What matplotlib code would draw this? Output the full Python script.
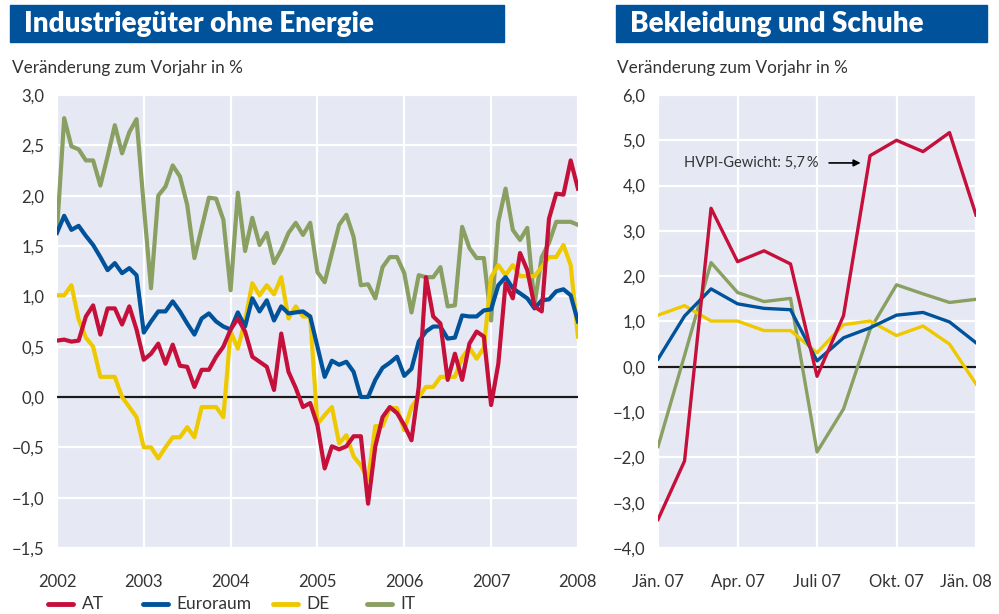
import matplotlib
matplotlib.use('Agg')
import numpy as np
import matplotlib.pyplot as plt
import matplotlib.transforms as mtrans
from matplotlib.patches import Rectangle
from matplotlib.lines import Line2D

plt.rcParams['font.family'] = ['Lato', 'DejaVu Sans']

# linkes Diagramm: Monatswerte Jan 2002 bis Jan 2008
at_l = [0.56, 0.57, 0.55, 0.56, 0.80, 0.91, 0.62, 0.88, 0.88, 0.72, 0.90, 0.67,
        0.37, 0.43, 0.53, 0.33, 0.52, 0.31, 0.30, 0.10, 0.27, 0.27, 0.40, 0.50,
        0.67, 0.78, 0.65, 0.40, 0.35, 0.30, 0.07, 0.63, 0.25, 0.09, -0.10, -0.06,
        -0.28, -0.71, -0.49, -0.52, -0.49, -0.39, -0.39, -1.06, -0.49, -0.20, -0.10, -0.16,
        -0.28, -0.43, 0.10, 1.19, 0.80, 0.73, 0.17, 0.43, 0.17, 0.53, 0.65, 0.60,
        -0.08, 0.33, 1.13, 0.98, 1.43, 1.26, 0.90, 0.85, 1.77, 2.02, 2.01, 2.35, 2.07]
euro_l = [1.63, 1.80, 1.66, 1.70, 1.60, 1.51, 1.39, 1.26, 1.33, 1.23, 1.28, 1.21,
          0.64, 0.75, 0.85, 0.85, 0.95, 0.85, 0.73, 0.62, 0.78, 0.83, 0.75, 0.70,
          0.67, 0.84, 0.70, 0.98, 0.85, 0.96, 0.76, 0.90, 0.83, 0.84, 0.85, 0.80,
          0.50, 0.20, 0.36, 0.32, 0.35, 0.25, 0.00, 0.00, 0.17, 0.29, 0.34, 0.40,
          0.21, 0.28, 0.55, 0.65, 0.70, 0.70, 0.58, 0.59, 0.81, 0.80, 0.80, 0.86,
          0.87, 1.11, 1.19, 1.08, 1.03, 0.98, 0.88, 0.96, 0.97, 1.05, 1.07, 1.01, 0.75]
de_l = [1.01, 1.01, 1.11, 0.77, 0.59, 0.50, 0.20, 0.20, 0.20, 0.00, -0.10, -0.20,
        -0.50, -0.50, -0.61, -0.50, -0.40, -0.40, -0.30, -0.40, -0.10, -0.10, -0.10, -0.20,
        0.65, 0.48, 0.76, 1.13, 1.01, 1.11, 1.02, 1.19, 0.78, 0.90, 0.80, 0.80,
        -0.27, -0.18, -0.10, -0.46, -0.38, -0.59, -0.68, -0.82, -0.29, -0.29, -0.11, -0.11,
        -0.33, -0.10, 0.00, 0.10, 0.10, 0.20, 0.20, 0.20, 0.39, 0.49, 0.38, 0.49,
        1.19, 1.31, 1.21, 1.31, 1.20, 1.20, 1.20, 1.29, 1.39, 1.39, 1.51, 1.31, 0.60]
it_l = [1.64, 2.77, 2.49, 2.46, 2.35, 2.35, 2.10, 2.39, 2.70, 2.42, 2.63, 2.76,
        1.90, 1.08, 2.00, 2.09, 2.30, 2.19, 1.91, 1.38, 1.68, 1.98, 1.97, 1.76,
        1.06, 2.03, 1.45, 1.78, 1.51, 1.63, 1.33, 1.46, 1.63, 1.73, 1.61, 1.73,
        1.24, 1.14, 1.43, 1.71, 1.81, 1.59, 1.11, 1.12, 0.98, 1.29, 1.39, 1.39,
        1.23, 0.84, 1.21, 1.19, 1.19, 1.29, 0.90, 0.91, 1.69, 1.48, 1.38, 1.38,
        0.76, 1.74, 2.07, 1.66, 1.56, 1.68, 0.92, 1.39, 1.53, 1.74, 1.74, 1.74, 1.71]
years = [2002, 2003, 2004, 2005, 2006, 2007, 2008]

# rechtes Diagramm: Jän. 07 bis Jän. 08
at_r = [-3.37, -2.08, 3.50, 2.32, 2.56, 2.27, -0.21, 1.13, 4.66, 5.00, 4.75, 5.17, 3.35]
euro_r = [0.17, 1.12, 1.72, 1.39, 1.29, 1.26, 0.13, 0.64, 0.86, 1.14, 1.20, 0.99, 0.53]
de_r = [1.14, 1.35, 1.01, 1.01, 0.80, 0.80, 0.31, 0.93, 1.01, 0.69, 0.90, 0.50, -0.38]
it_r = [-1.76, 0.25, 2.30, 1.64, 1.44, 1.51, -1.88, -0.93, 0.82, 1.81, 1.61, 1.42, 1.49]
month_labels = ['Jän. 07', 'Apr. 07', 'Juli 07', 'Okt. 07', 'Jän. 08']

series = ['AT', 'Euroraum', 'DE', 'IT']
colors = ['#C4103A', '#00529B', '#EEC900', '#8A9F62']
bg = '#E6E9F3'
txt = '#333333'
bar = '#00529B'

fig = plt.figure(figsize=(9.99, 6.14), dpi=100)

def de_fmt(v):
    s = '%.1f' % v
    return s.replace('-', '\u2212').replace('.', ',')

def style(ax):
    ax.set_facecolor(bg)
    for s in ax.spines.values():
        s.set_visible(False)
    ax.grid(True, color='white', lw=1.6)
    ax.set_axisbelow(True)
    ax.tick_params(length=0, labelsize=12, colors=txt)
    ax.tick_params(axis='x', pad=19)
    ax.tick_params(axis='y', pad=9)
    ax.axhline(0, color='#1a1a1a', lw=1.6, zorder=2)

# links
ax1 = fig.add_axes([0.057, 0.1075, 0.5215, 0.7378])
style(ax1)
x_l = 2002 + np.arange(len(at_l)) / 12.0
for vals, col in zip([it_l, de_l, euro_l, at_l], colors[::-1]):
    ax1.plot(x_l, vals, color=col, lw=3, zorder=3)
ax1.set_xlim(2002, 2008)
ax1.set_ylim(-1.5, 3.0)
ax1.set_xticks(years)
ax1.set_xticklabels([str(y) for y in years])
yt1 = np.arange(-1.5, 3.01, 0.5)
ax1.set_yticks(yt1)
ax1.set_yticklabels([de_fmt(v) for v in yt1])

# rechts
ax2 = fig.add_axes([0.6587, 0.1075, 0.3183, 0.7378])
style(ax2)
x_r = np.arange(len(at_r))
for vals, col in zip([it_r, de_r, euro_r, at_r], colors[::-1]):
    ax2.plot(x_r, vals, color=col, lw=2.4, zorder=3)
ax2.set_xlim(0, 12)
ax2.set_ylim(-4, 6)
ax2.set_xticks([0, 3, 6, 9, 12])
ax2.set_xticklabels(month_labels)
last = ax2.get_xticklabels()[-1]
last.set_transform(last.get_transform() + mtrans.ScaledTranslation(-10 / 100, 0, fig.dpi_scale_trans))
yt2 = np.arange(-4, 6.01, 1.0)
ax2.set_yticks(yt2)
ax2.set_yticklabels([de_fmt(v) for v in yt2])
ax2.text(0.98, 4.5, 'HVPI-Gewicht: 5,7\u2009%', fontsize=10.5, color=txt,
         va='center', ha='left')
ax2.annotate('', xy=(7.75, 4.5), xytext=(6.35, 4.5),
             arrowprops=dict(arrowstyle='-|>', color='black', lw=1.2, mutation_scale=10))

# Titelbalken
for x0, w, title in [(0.010, 0.4945, 'Industriegüter ohne Energie'),
                     (0.6166, 0.3714, 'Bekleidung und Schuhe')]:
    fig.patches.append(Rectangle((x0, 0.9316), w, 0.0603, transform=fig.transFigure,
                                 color=bar, zorder=0))
    fig.text(x0 + 0.014, 0.961, title, color='white', fontsize=20, fontweight='heavy',
             va='center', ha='left')

fig.text(0.012, 0.889, 'Veränderung zum Vorjahr in %', fontsize=12.3, color=txt, va='center')
fig.text(0.618, 0.889, 'Veränderung zum Vorjahr in %', fontsize=12.3, color=txt, va='center')

# Legende, von Hand gesetzt
leg_x = [0.048, 0.143, 0.273, 0.367]
leg_y = 0.0163
for xl, name, col in zip(leg_x, series, colors):
    fig.lines.append(Line2D([xl, xl + 0.025], [leg_y, leg_y], transform=fig.transFigure,
                            color=col, lw=3.5, solid_capstyle='round'))
    fig.text(xl + 0.034, leg_y, name, fontsize=12.5, color=txt, va='center', ha='left')

fig.savefig('out.png', dpi=100)
